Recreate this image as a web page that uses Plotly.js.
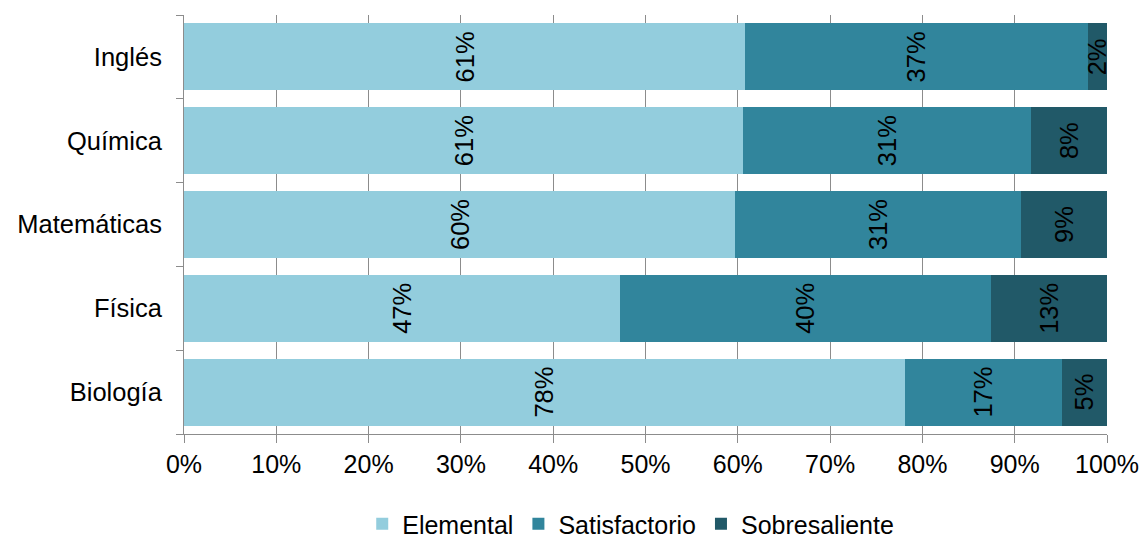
<!DOCTYPE html>
<html>
<head>
<meta charset="utf-8">
<script src="https://cdn.plot.ly/plotly-3.0.1.min.js"></script>
<style>html,body{margin:0;padding:0;background:#fff;}#chart{width:1143px;height:541px;}</style>
</head>
<body>
<div id="chart"></div>
<script>
const categories = ["Biología", "Física", "Matemáticas", "Química", "Inglés"];
const elemental = [78.1, 47.2, 59.7, 60.6, 60.8];
const satisfactorio = [17.0, 40.2, 31.0, 31.2, 37.1];
const sobresaliente = [4.9, 12.6, 9.3, 8.2, 2.1];
const seriesNames = ["Elemental", "Satisfactorio", "Sobresaliente"];
const seriesColors = ["#93CDDD", "#31859C", "#215968"];
const xTickVals = [0, 10, 20, 30, 40, 50, 60, 70, 80, 90, 100];
const xTickText = ["0%", "10%", "20%", "30%", "40%", "50%", "60%", "70%", "80%", "90%", "100%"];

const FONT = "Liberation Sans, Arial, sans-serif";
const seriesValues = [elemental, satisfactorio, sobresaliente];

const traces = seriesValues.map((vals, i) => ({
  type: "bar",
  orientation: "h",
  name: seriesNames[i],
  y: categories,
  x: vals,
  marker: {color: seriesColors[i], line: {width: 0}},
  text: vals.map(v => Math.round(v) + "%"),
  textposition: "inside",
  insidetextanchor: "middle",
  textangle: -90,
  constraintext: "none",
  textfont: {family: FONT, size: 25.5, color: "#000"},
  hoverinfo: "name+x"
}));

const layout = {
  width: 1143,
  height: 541,
  paper_bgcolor: "#fff",
  plot_bgcolor: "#fff",
  barmode: "stack",
  bargap: 0.2,
  margin: {l: 184, r: 36, t: 15, b: 107},
  font: {family: FONT, size: 25, color: "#000"},
  xaxis: {
    range: [0, 100],
    tickvals: xTickVals,
    ticktext: xTickText,
    showgrid: true,
    gridcolor: "#8c8c8c",
    gridwidth: 1,
    zeroline: false,
    showline: true,
    linecolor: "#8c8c8c",
    linewidth: 1,
    ticks: "outside",
    ticklen: 8,
    tickcolor: "#8c8c8c",
    tickfont: {family: FONT, size: 25, color: "#000"},
    fixedrange: true,
    automargin: false
  },
  yaxis: {
    type: "category",
    categoryorder: "array",
    categoryarray: categories,
    showgrid: false,
    zeroline: false,
    showline: true,
    linecolor: "#8c8c8c",
    linewidth: 1,
    ticks: "outside",
    tickson: "boundaries",
    ticklen: 7,
    tickcolor: "#8c8c8c",
    ticklabelstandoff: 16,
    tickfont: {family: FONT, size: 25.5, color: "#000"},
    fixedrange: true,
    automargin: false
  },
  showlegend: true,
  legend: {
    orientation: "h",
    x: 0.484,
    xanchor: "center",
    yref: "container",
    y: 1 - 524 / 541,
    yanchor: "middle",
    font: {family: FONT, size: 25, color: "#000"},
    traceorder: "normal",
    itemwidth: 30
  }
};

Plotly.newPlot("chart", traces, layout, {displayModeBar: false, staticPlot: true});
</script>
</body>
</html>
